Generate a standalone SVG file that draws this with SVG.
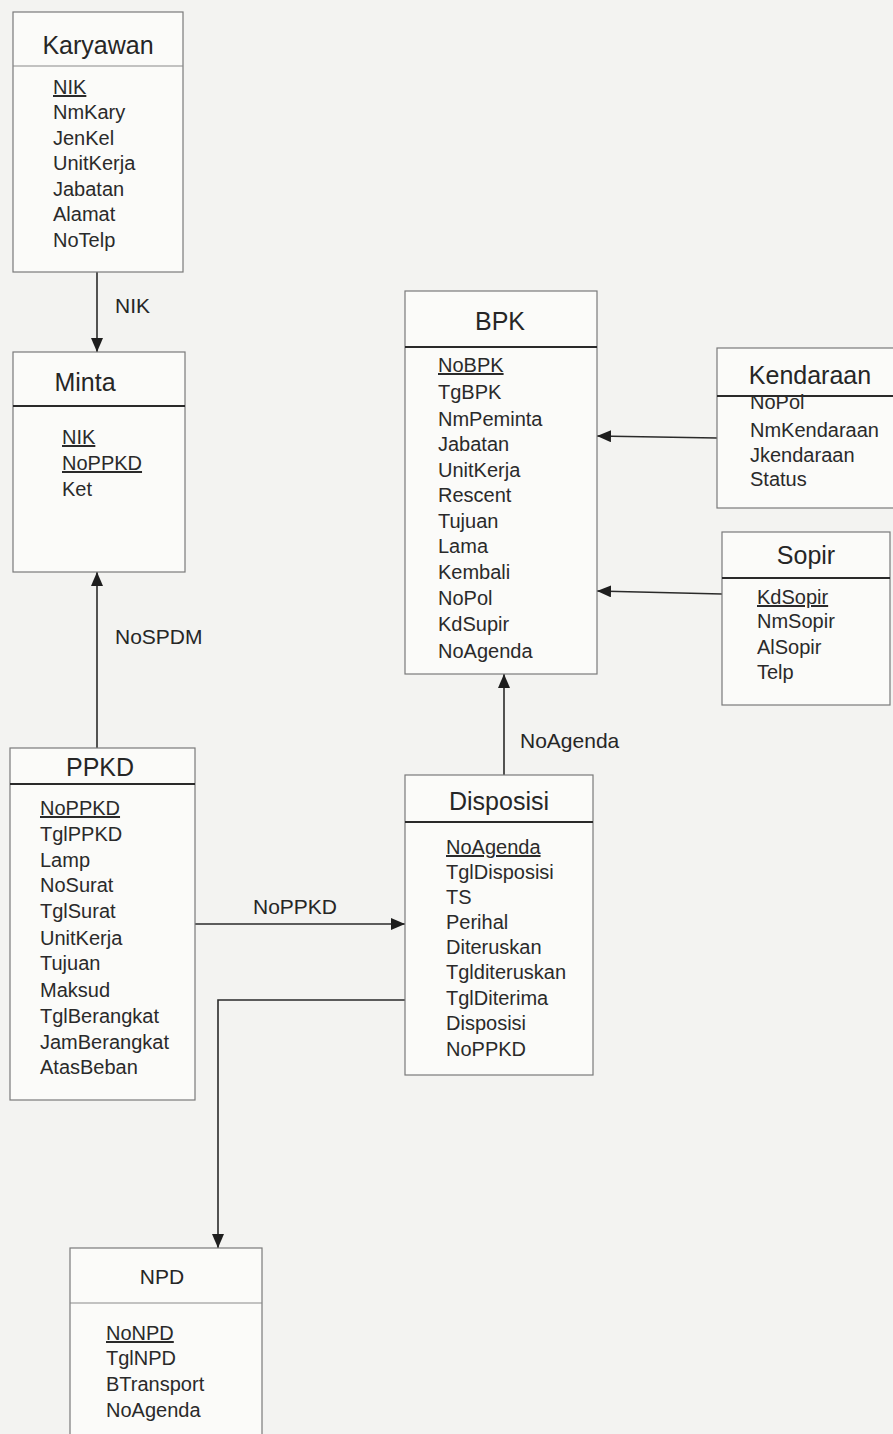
<svg xmlns="http://www.w3.org/2000/svg" width="893" height="1434" viewBox="0 0 893 1434">
  <style>
    .box { fill: #fbfbf9; stroke: #7a7a7a; stroke-width: 1.2; }
    .div { stroke: #2a2a2a; stroke-width: 2.2; }
    .divthin { stroke: #8a8a8a; stroke-width: 1.2; }
    .title { font-family: "Liberation Sans", Arial, sans-serif; font-size: 25px; fill: #262626; text-anchor: middle; }
    .attr { font-family: "Liberation Sans", Arial, sans-serif; font-size: 20px; fill: #2a2a2a; }
    .pk { text-decoration: underline; }
    .lbl { font-family: "Liberation Sans", Arial, sans-serif; font-size: 21px; fill: #262626; }
    .conn { stroke: #2a2a2a; stroke-width: 1.6; fill: none; }
  </style>
  <defs>
    <marker id="arrow" viewBox="0 0 14 12" refX="14" refY="6" markerWidth="14" markerHeight="12" markerUnits="userSpaceOnUse" orient="auto">
      <path d="M0,0 L14,6 L0,12 Z" fill="#1e1e1e"/>
    </marker>
  </defs>

  <rect x="0" y="0" width="893" height="1434" fill="#f3f3f1"/>

  <g id="connectors">
    <!-- Karyawan to Minta -->
    <line class="conn" x1="97" y1="272" x2="97" y2="352" marker-end="url(#arrow)"/>
    <text class="lbl" x="115" y="313">NIK</text>
    <!-- PPKD to Minta -->
    <line class="conn" x1="97" y1="748" x2="97" y2="572" marker-end="url(#arrow)"/>
    <text class="lbl" x="115" y="644">NoSPDM</text>
    <!-- PPKD to Disposisi -->
    <line class="conn" x1="195" y1="924" x2="405" y2="924" marker-end="url(#arrow)"/>
    <text class="lbl" x="295" y="914" text-anchor="middle">NoPPKD</text>
    <!-- Disposisi to BPK -->
    <line class="conn" x1="504" y1="775" x2="504" y2="674" marker-end="url(#arrow)"/>
    <text class="lbl" x="520" y="748">NoAgenda</text>
    <!-- Kendaraan to BPK -->
    <line class="conn" x1="717" y1="438" x2="597" y2="436" marker-end="url(#arrow)"/>
    <!-- Sopir to BPK -->
    <line class="conn" x1="722" y1="594" x2="597" y2="591" marker-end="url(#arrow)"/>
    <!-- Disposisi to NPD -->
    <polyline class="conn" points="405,1000 218,1000 218,1248" marker-end="url(#arrow)"/>
  </g>

  <g id="karyawan">
    <rect class="box" x="13" y="12" width="170" height="260"/>
    <line class="divthin" x1="13" y1="66" x2="183" y2="66"/>
    <text class="title" x="98" y="54">Karyawan</text>
    <text class="attr pk" x="53" y="94">NIK</text>
    <text class="attr" x="53" y="119">NmKary</text>
    <text class="attr" x="53" y="145">JenKel</text>
    <text class="attr" x="53" y="170">UnitKerja</text>
    <text class="attr" x="53" y="196">Jabatan</text>
    <text class="attr" x="53" y="221">Alamat</text>
    <text class="attr" x="53" y="247">NoTelp</text>
  </g>

  <g id="minta">
    <rect class="box" x="13" y="352" width="172" height="220"/>
    <line class="div" x1="13" y1="406" x2="185" y2="406"/>
    <text class="title" x="85" y="391">Minta</text>
    <text class="attr pk" x="62" y="444">NIK</text>
    <text class="attr pk" x="62" y="470">NoPPKD</text>
    <text class="attr" x="62" y="496">Ket</text>
  </g>

  <g id="bpk">
    <rect class="box" x="405" y="291" width="192" height="383"/>
    <line class="div" x1="405" y1="347" x2="597" y2="347"/>
    <text class="title" x="500" y="330">BPK</text>
    <text class="attr pk" x="438" y="372">NoBPK</text>
    <text class="attr" x="438" y="399">TgBPK</text>
    <text class="attr" x="438" y="426">NmPeminta</text>
    <text class="attr" x="438" y="451">Jabatan</text>
    <text class="attr" x="438" y="477">UnitKerja</text>
    <text class="attr" x="438" y="502">Rescent</text>
    <text class="attr" x="438" y="528">Tujuan</text>
    <text class="attr" x="438" y="553">Lama</text>
    <text class="attr" x="438" y="579">Kembali</text>
    <text class="attr" x="438" y="605">NoPol</text>
    <text class="attr" x="438" y="631">KdSupir</text>
    <text class="attr" x="438" y="658">NoAgenda</text>
  </g>

  <g id="kendaraan">
    <rect class="box" x="717" y="348" width="190" height="160"/>
    <line class="div" x1="717" y1="396" x2="893" y2="396"/>
    <text class="title" x="810" y="384">Kendaraan</text>
    <text class="attr" x="750" y="409">NoPol</text>
    <text class="attr" x="750" y="437">NmKendaraan</text>
    <text class="attr" x="750" y="462">Jkendaraan</text>
    <text class="attr" x="750" y="486">Status</text>
  </g>

  <g id="sopir">
    <rect class="box" x="722" y="532" width="168" height="173"/>
    <line class="div" x1="722" y1="578" x2="890" y2="578"/>
    <text class="title" x="806" y="564">Sopir</text>
    <text class="attr pk" x="757" y="604">KdSopir</text>
    <text class="attr" x="757" y="628">NmSopir</text>
    <text class="attr" x="757" y="654">AlSopir</text>
    <text class="attr" x="757" y="679">Telp</text>
  </g>

  <g id="ppkd">
    <rect class="box" x="10" y="748" width="185" height="352"/>
    <line class="div" x1="10" y1="784" x2="195" y2="784"/>
    <text class="title" x="100" y="776">PPKD</text>
    <text class="attr pk" x="40" y="815">NoPPKD</text>
    <text class="attr" x="40" y="841">TglPPKD</text>
    <text class="attr" x="40" y="867">Lamp</text>
    <text class="attr" x="40" y="892">NoSurat</text>
    <text class="attr" x="40" y="918">TglSurat</text>
    <text class="attr" x="40" y="945">UnitKerja</text>
    <text class="attr" x="40" y="970">Tujuan</text>
    <text class="attr" x="40" y="997">Maksud</text>
    <text class="attr" x="40" y="1023">TglBerangkat</text>
    <text class="attr" x="40" y="1049">JamBerangkat</text>
    <text class="attr" x="40" y="1074">AtasBeban</text>
  </g>

  <g id="disposisi">
    <rect class="box" x="405" y="775" width="188" height="300"/>
    <line class="div" x1="405" y1="822" x2="593" y2="822"/>
    <text class="title" x="499" y="810">Disposisi</text>
    <text class="attr pk" x="446" y="854">NoAgenda</text>
    <text class="attr" x="446" y="879">TglDisposisi</text>
    <text class="attr" x="446" y="904">TS</text>
    <text class="attr" x="446" y="929">Perihal</text>
    <text class="attr" x="446" y="954">Diteruskan</text>
    <text class="attr" x="446" y="979">Tglditeruskan</text>
    <text class="attr" x="446" y="1005">TglDiterima</text>
    <text class="attr" x="446" y="1030">Disposisi</text>
    <text class="attr" x="446" y="1056">NoPPKD</text>
  </g>

  <g id="npd">
    <rect class="box" x="70" y="1248" width="192" height="200"/>
    <line class="divthin" x1="70" y1="1303" x2="262" y2="1303"/>
    <text class="title" x="162" y="1284" style="font-size:21px">NPD</text>
    <text class="attr pk" x="106" y="1340">NoNPD</text>
    <text class="attr" x="106" y="1365">TglNPD</text>
    <text class="attr" x="106" y="1391">BTransport</text>
    <text class="attr" x="106" y="1417">NoAgenda</text>
  </g>
</svg>
